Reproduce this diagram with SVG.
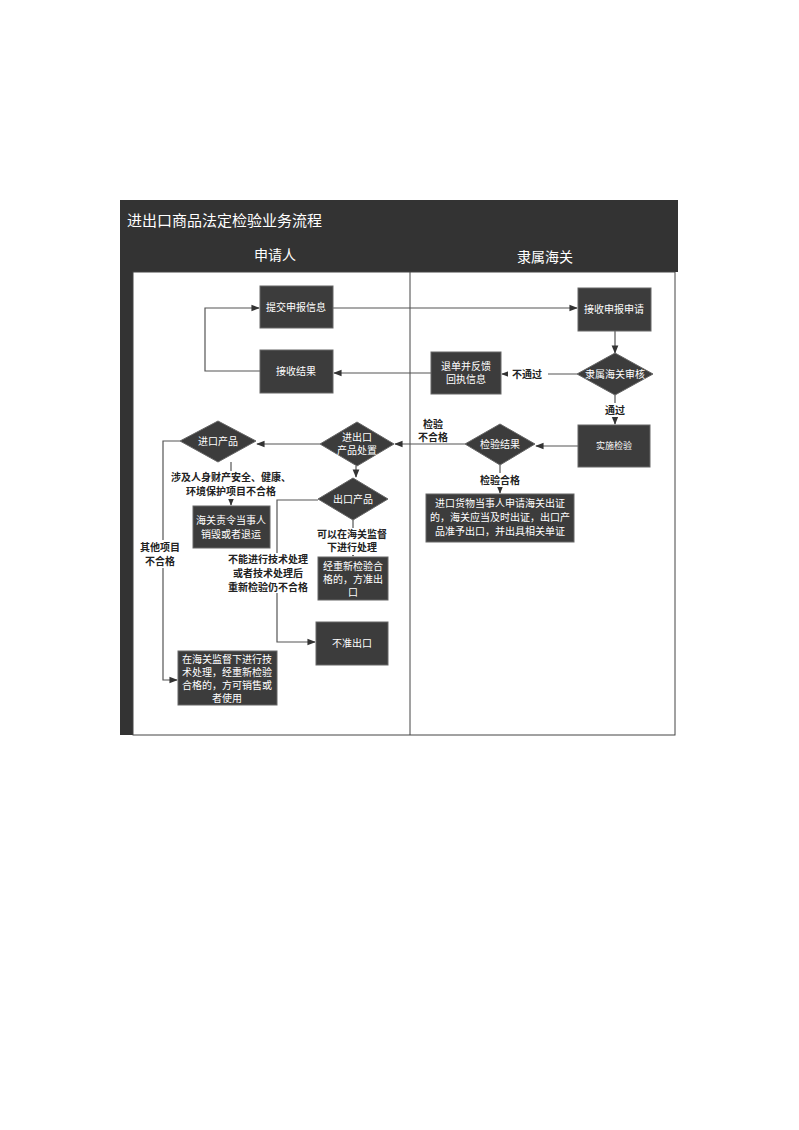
<svg xmlns="http://www.w3.org/2000/svg" width="799" height="1130" viewBox="0 0 799 1130">
<defs>
<style>
.box{fill:#3c3c3c;stroke:#666;stroke-width:1}
.t{font-family:"Liberation Sans","Noto Sans CJK SC",sans-serif;font-size:10px;fill:#fff;text-anchor:middle}
.l{font-family:"Liberation Sans","Noto Sans CJK SC",sans-serif;font-size:10px;font-weight:bold;fill:#222;text-anchor:middle}
.c{fill:none;stroke:#555;stroke-width:1.2}
.bg{fill:#fff}
</style>
<marker id="a" viewBox="0 0 10 10" refX="9" refY="5" markerWidth="7" markerHeight="7" orient="auto"><path d="M0,1L10,5L0,9z" fill="#333"/></marker>
</defs>
<rect width="799" height="1130" fill="#fff"/>
<g id="frame">
<rect x="120" y="200" width="558" height="72" fill="#333"/>
<rect x="120" y="200" width="13" height="535" fill="#333"/>
<rect x="133" y="272" width="542" height="463" fill="#fff" stroke="#444"/>
<line x1="410" y1="272" x2="410" y2="735" stroke="#444"/>
<text x="127" y="226" font-family="Liberation Sans,'Noto Sans CJK SC',sans-serif" font-size="15" fill="#fff">进出口商品法定检验业务流程</text>
<text x="275" y="260" class="t" style="font-size:14px">申请人</text>
<text x="545" y="262" class="t" style="font-size:14px">隶属海关</text>
</g>
<g id="connectors">
<path class="c" d="M333,308H577" marker-end="url(#a)"/>
<path class="c" d="M260,371H205V308H259" marker-end="url(#a)"/>
<path class="c" d="M431,373H334" marker-end="url(#a)"/>
<path class="c" d="M577,374H502" marker-end="url(#a)"/>
<path class="c" d="M615,331V353" marker-end="url(#a)"/>
<path class="c" d="M615,395V424" marker-end="url(#a)"/>
<path class="c" d="M578,446H536" marker-end="url(#a)"/>
<path class="c" d="M465,444H395" marker-end="url(#a)"/>
<path class="c" d="M500,465V493" marker-end="url(#a)"/>
<path class="c" d="M320,444H257" marker-end="url(#a)"/>
<path class="c" d="M356,466V477" marker-end="url(#a)"/>
<path class="c" d="M231,462V505" marker-end="url(#a)"/>
<path class="c" d="M180,441H163V680H177" marker-end="url(#a)"/>
<path class="c" d="M353,520V556" marker-end="url(#a)"/>
<path class="c" d="M318,500H277V642H315" marker-end="url(#a)"/>
</g>
<g id="labels">
<rect class="bg" x="508" y="367" width="40" height="14"/>
<text class="l" x="527" y="378">不通过</text>
<rect class="bg" x="602" y="403" width="26" height="14"/>
<text class="l" x="615" y="414">通过</text>
<text class="l" x="433" y="428">检验</text>
<text class="l" x="433" y="441">不合格</text>
<rect class="bg" x="476" y="473" width="48" height="14"/>
<text class="l" x="500" y="484">检验合格</text>
<rect class="bg" x="168" y="471" width="126" height="28"/>
<text class="l" x="231" y="481">涉及人身财产安全、健康、</text>
<text class="l" x="231" y="495">环境保护项目不合格</text>
<rect class="bg" x="138" y="540" width="44" height="28"/>
<text class="l" x="160" y="551">其他项目</text>
<text class="l" x="160" y="565">不合格</text>
<rect class="bg" x="314" y="528" width="76" height="27"/>
<text class="l" x="352" y="538">可以在海关监督</text>
<text class="l" x="352" y="551">下进行处理</text>
<rect class="bg" x="225" y="553" width="82" height="40"/>
<text class="l" x="268" y="563">不能进行技术处理</text>
<text class="l" x="268" y="577">或者技术处理后</text>
<text class="l" x="268" y="591">重新检验仍不合格</text>
</g>
<g id="n1"><rect class="box" x="260" y="286" width="73" height="42"/><text class="t" x="296" y="311">提交申报信息</text></g>
<g id="n2"><rect class="box" x="260" y="350" width="73" height="43"/><text class="t" x="296" y="375">接收结果</text></g>
<g id="n3"><rect class="box" x="578" y="288" width="73" height="43"/><text class="t" x="614" y="313">接收申报申请</text></g>
<g id="n4"><polygon class="box" points="615,353 653,374 615,395 577,374"/><text class="t" x="615" y="378">隶属海关审核</text></g>
<g id="n5"><rect class="box" x="431" y="352" width="70" height="42"/><text class="t" x="466" y="370">退单并反馈</text><text class="t" x="466" y="383">回执信息</text></g>
<g id="n6"><rect class="box" x="578" y="425" width="72" height="42"/><text class="t" x="614" y="449" style="font-size:9px">实施检验</text></g>
<g id="n7"><polygon class="box" points="500,424 535,444 500,465 465,444"/><text class="t" x="500" y="448">检验结果</text></g>
<g id="n8"><rect class="box" x="426" y="494" width="148" height="48"/><text class="t" x="500" y="507">进口货物当事人申请海关出证</text><text class="t" x="500" y="521">的，海关应当及时出证，出口产</text><text class="t" x="500" y="535">品准予出口，并出具相关单证</text></g>
<g id="n9"><polygon class="box" points="357,422 394,444 357,466 320,444"/><text class="t" x="357" y="441">进出口</text><text class="t" x="357" y="454">产品处置</text></g>
<g id="n10"><polygon class="box" points="218,421 256,441 218,462 180,441"/><text class="t" x="218" y="445">进口产品</text></g>
<g id="n11"><rect class="box" x="193" y="506" width="77" height="42"/><text class="t" x="231" y="524">海关责令当事人</text><text class="t" x="231" y="538">销毁或者退运</text></g>
<g id="n12"><polygon class="box" points="353,478 388,499 353,520 318,499"/><text class="t" x="353" y="503">出口产品</text></g>
<g id="n13"><rect class="box" x="318" y="557" width="70" height="43"/><text class="t" x="353" y="570">经重新检验合</text><text class="t" x="353" y="583">格的，方准出</text><text class="t" x="353" y="596">口</text></g>
<g id="n14"><rect class="box" x="316" y="622" width="72" height="43"/><text class="t" x="352" y="647">不准出口</text></g>
<g id="n15"><rect class="box" x="178" y="651" width="99" height="54"/><text class="t" x="227" y="663">在海关监督下进行技</text><text class="t" x="227" y="676">术处理，经重新检验</text><text class="t" x="227" y="689">合格的，方可销售或</text><text class="t" x="227" y="702">者使用</text></g>
</svg>
